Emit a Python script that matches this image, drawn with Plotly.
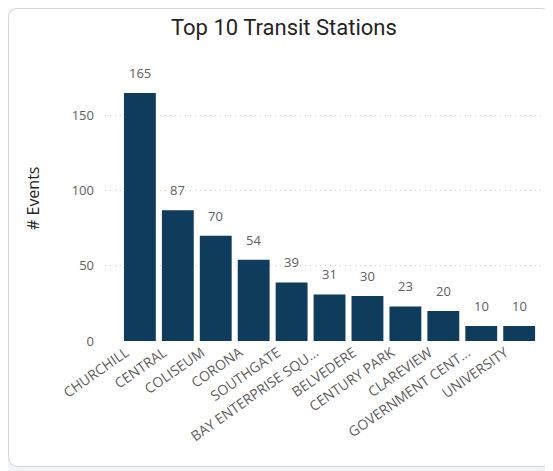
import plotly.graph_objects as go

stations = ["CHURCHILL", "CENTRAL", "COLISEUM", "CORONA", "SOUTHGATE",
            "BAY ENTERPRISE SQU...", "BELVEDERE", "CENTURY PARK", "CLAREVIEW",
            "GOVERNMENT CENT...", "UNIVERSITY"]
events = [165, 87, 70, 54, 39, 31, 30, 23, 20, 10, 10]
y_ticks = [0, 50, 100, 150]

# page body has an 8px margin; work in reference pixels and offset
OFF = 8
W, H = 553, 471
PL, PR, PT, PB = 105, 548, 78, 341   # plot area in reference pixels
L, T = PL - OFF, PT - OFF
R, B = W - (PR - OFF), H - (PB - OFF)
pw, ph = W - L - R, H - T - B

def px(x):
    return (x - OFF - L) / pw

def py(y):
    return (H - B - (y - OFF)) / ph

xs = list(range(len(stations)))
fig = go.Figure()
fig.add_trace(go.Bar(
    x=xs, y=events,
    marker=dict(color="#0f3b5c", line=dict(width=0)),
    width=0.84,
))
for xi, v in zip(xs, events):
    fig.add_annotation(x=xi, y=v, xref="x", yref="y", text=str(v), showarrow=False,
                       yanchor="bottom", yshift=9,
                       font=dict(family="Open Sans", size=13, color="#605e5c"))

# card shape with rounded corners
x0, y0, x1, y1, r = 8.5, 8.5, 551, 466.5, 10
path = (f"M {px(x0+r)},{py(y0)} L {px(x1-r)},{py(y0)} Q {px(x1)},{py(y0)} {px(x1)},{py(y0+r)} "
        f"L {px(x1)},{py(y1-r)} Q {px(x1)},{py(y1)} {px(x1-r)},{py(y1)} "
        f"L {px(x0+r)},{py(y1)} Q {px(x0)},{py(y1)} {px(x0)},{py(y1-r)} "
        f"L {px(x0)},{py(y0+r)} Q {px(x0)},{py(y0)} {px(x0+r)},{py(y0)} Z")
fig.add_shape(type="path", path=path, xref="paper", yref="paper",
              fillcolor="white", line=dict(color="#d6d6d6", width=1), layer="below")

fig.add_annotation(text="Top 10 Transit Stations", x=px(284), y=py(28), xref="paper", yref="paper",
                   showarrow=False, xanchor="center", yanchor="middle",
                   font=dict(family="Roboto", size=22, color="#252423"))
fig.add_annotation(text="# Events", x=px(33), y=py(198), xref="paper", yref="paper",
                   showarrow=False, textangle=-90, xanchor="center", yanchor="middle",
                   font=dict(family="Open Sans", size=16, color="#252423"))

fig.update_layout(
    template="none",
    width=W, height=H,
    margin=dict(l=L, r=R, t=T, b=B, pad=0, autoexpand=False),
    paper_bgcolor="#f3f4f6", plot_bgcolor="rgba(0,0,0,0)",
    showlegend=False, bargap=0.16,
    xaxis=dict(range=[-0.92, 10.76], tickmode="array", tickvals=xs,
               ticktext=stations, tickangle=-35, showgrid=False, zeroline=False,
               showline=False, ticks="", automargin=False, ticklabelshift=-14,
               tickfont=dict(family="Open Sans", size=14, color="#605e5c")),
    yaxis=dict(range=[0, 175], tickmode="array", tickvals=y_ticks,
               showgrid=True, gridcolor="#c8c8c8", griddash="1px,4px", gridwidth=1,
               zeroline=False, showline=False, ticks="", ticklabelstandoff=10, automargin=False,
               tickfont=dict(family="Open Sans", size=13, color="#605e5c")),
)

fig.write_html("out.html")
